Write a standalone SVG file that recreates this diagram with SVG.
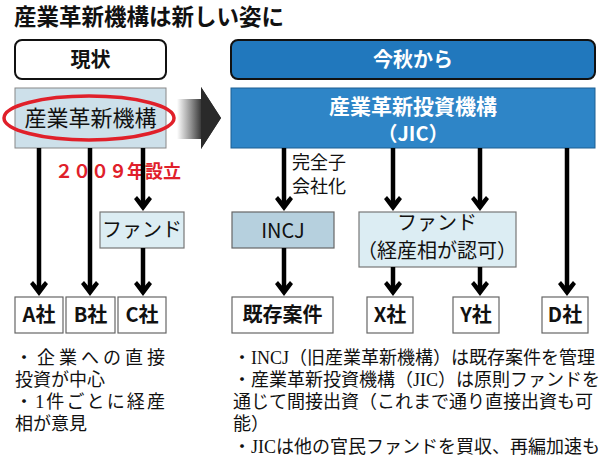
<svg xmlns="http://www.w3.org/2000/svg" width="600" height="463" viewBox="0 0 600 463">
<style>
.sans{font-family:"Noto Sans CJK JP","Noto Sans",sans-serif}
.serif{font-family:"Liberation Serif","Noto Sans CJK JP",serif;font-size:18px;fill:#111}
.b{font-weight:bold}
.box{fill:#fff;stroke:#666;stroke-width:1.2}
.fund{fill:#dcedf3;stroke:#777;stroke-width:1.2}
.shaft{stroke:#000;stroke-width:4.5;fill:none}
.lbl{font-size:20px;fill:#111;text-anchor:middle}
</style>
<defs>
<linearGradient id="fade" x1="177" y1="0" x2="203" y2="0" gradientUnits="userSpaceOnUse">
<stop offset="0" stop-color="#ffffff"/>
<stop offset="0.5" stop-color="#999"/>
<stop offset="1" stop-color="#2a2a2a"/>
</linearGradient>
<polygon id="ah" points="0,0 -9,-12 -6,-15 0,-8 6,-15 9,-12" fill="#000"/>
</defs>
<rect width="600" height="463" fill="#fff"/>

<text class="sans b" x="14" y="25" font-size="22.5" fill="#111">産業革新機構は新しい姿に</text>

<g id="hdr-now">
<rect x="15" y="40" width="151" height="39" rx="7" fill="#fff" stroke="#111" stroke-width="2"/>
<text class="sans b" x="90.5" y="67" font-size="20" text-anchor="middle" fill="#111">現状</text>
</g>
<g id="hdr-new">
<rect x="231" y="40" width="364" height="39" rx="7" fill="#2178bd" stroke="#111" stroke-width="2"/>
<text class="sans b" x="413" y="67" font-size="20" text-anchor="middle" fill="#fff">今秋から</text>
</g>

<g id="old-org">
<rect x="15" y="88" width="151" height="60" fill="#cde0ea" stroke="#888" stroke-width="1"/>
<text class="sans" x="90.5" y="126" font-size="22" text-anchor="middle" fill="#111">産業革新機構</text>
<ellipse cx="89" cy="118" rx="85" ry="22" fill="none" stroke="#e0202a" stroke-width="3.5"/>
</g>

<g id="transition-arrow">
<polygon points="177,99 201,99 201,87 221,118 201,149 201,139 177,139" fill="url(#fade)"/>
<polygon points="201,87 221,118 201,149" fill="#2a2a2a"/>
</g>

<g id="jic">
<rect x="231" y="88" width="364" height="60" fill="#2e85c7" stroke="#1d5f92" stroke-width="1"/>
<text class="sans b" x="413" y="114" font-size="21" text-anchor="middle" fill="#fff">産業革新投資機構</text>
<text class="sans b" x="413" y="141" font-size="20" text-anchor="middle" fill="#fff">（JIC）</text>
</g>

<text id="year" class="sans b" x="55" y="178" font-size="18" fill="#e0202a">２００９年設立</text>

<g id="fund-old">
<rect class="fund" x="100" y="212" width="84" height="36"/>
<text class="sans lbl" x="142" y="237" font-size="19">ファンド</text>
</g>
<g id="co-a"><rect class="box" x="15" y="297" width="48" height="36"/><text class="sans b lbl" x="39" y="322">A社</text></g>
<g id="co-b"><rect class="box" x="66" y="297" width="49" height="36"/><text class="sans b lbl" x="90.5" y="322">B社</text></g>
<g id="co-c"><rect class="box" x="118" y="297" width="48" height="36"/><text class="sans b lbl" x="142" y="322">C社</text></g>

<g id="incj">
<rect x="232" y="212" width="102" height="36" fill="#b6d0de" stroke="#666" stroke-width="1.2"/>
<text class="sans lbl" x="283" y="238" font-size="21">INCJ</text>
</g>
<g id="fund-new">
<rect class="fund" x="359" y="212" width="157" height="55"/>
<text class="sans lbl" x="437" y="230" font-size="19">ファンド</text>
<text class="sans lbl" x="437" y="258" font-size="19">（経産相が認可）</text>
</g>
<g id="existing"><rect class="box" x="232" y="297" width="101" height="36"/><text class="sans b lbl" x="282.5" y="322">既存案件</text></g>
<g id="co-x"><rect class="box" x="367" y="297" width="46" height="36"/><text class="sans b lbl" x="390" y="322">X社</text></g>
<g id="co-y"><rect class="box" x="453" y="297" width="46" height="36"/><text class="sans b lbl" x="476" y="322">Y社</text></g>
<g id="co-d"><rect class="box" x="542" y="297" width="46" height="36"/><text class="sans b lbl" x="565" y="322">D社</text></g>

<g id="connectors">
<line class="shaft" x1="39" y1="148" x2="39" y2="290"/><use href="#ah" x="39" y="296"/>
<line class="shaft" x1="90" y1="148" x2="90" y2="290"/><use href="#ah" x="90" y="296"/>
<line class="shaft" x1="143" y1="148" x2="143" y2="205"/><use href="#ah" x="143" y="211"/>
<line class="shaft" x1="143" y1="248" x2="143" y2="290"/><use href="#ah" x="143" y="296"/>
<line class="shaft" x1="284" y1="148" x2="284" y2="205"/><use href="#ah" x="284" y="211"/>
<line class="shaft" x1="284" y1="248" x2="284" y2="290"/><use href="#ah" x="284" y="296"/>
<line class="shaft" x1="393" y1="148" x2="393" y2="205"/><use href="#ah" x="393" y="211"/>
<line class="shaft" x1="480" y1="148" x2="480" y2="205"/><use href="#ah" x="480" y="211"/>
<line class="shaft" x1="393" y1="267" x2="393" y2="290"/><use href="#ah" x="393" y="296"/>
<line class="shaft" x1="480" y1="267" x2="480" y2="290"/><use href="#ah" x="480" y="296"/>
<line class="shaft" x1="567" y1="148" x2="567" y2="290"/><use href="#ah" x="567" y="296"/>
<text class="sans" x="292" y="169" font-size="18" fill="#111">完全子</text>
<text class="sans" x="292" y="193" font-size="18" fill="#111">会社化</text>
</g>

<g id="notes-left">
<text class="serif" x="15" y="364" font-size="19" textLength="150" lengthAdjust="spacing">・企業への直接</text>
<text class="serif" x="15" y="386" font-size="19">投資が中心</text>
<text class="serif" x="15" y="408" font-size="19" textLength="150" lengthAdjust="spacing">・1件ごとに経産</text>
<text class="serif" x="15" y="430" font-size="19">相が意見</text>
</g>
<g id="notes-right">
<text class="serif" x="233" y="364">・INCJ（旧産業革新機構）は既存案件を管理</text>
<text class="serif" x="233" y="386">・産業革新投資機構（JIC）は原則ファンドを</text>
<text class="serif" x="233" y="408">通じて間接出資（これまで通り直接出資も可</text>
<text class="serif" x="233" y="430">能）</text>
<text class="serif" x="233" y="453">・JICは他の官民ファンドを買収、再編加速も</text>
</g>
</svg>
